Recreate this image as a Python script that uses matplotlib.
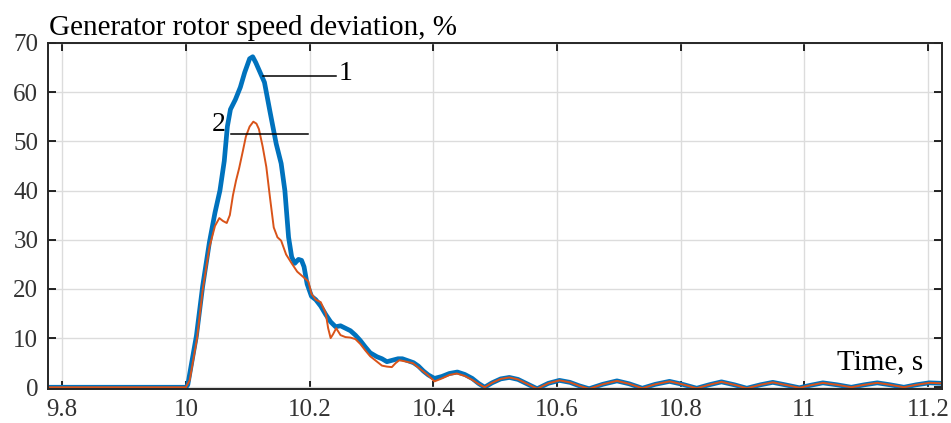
import numpy as np
import matplotlib.pyplot as plt

plt.rcParams['font.family'] = ['Liberation Serif', 'DejaVu Serif']

# curve 1 (blue)
t1 = [9.777, 10.0, 10.003, 10.017, 10.027, 10.038, 10.047, 10.055, 10.062, 10.067,
      10.072, 10.080, 10.088, 10.095, 10.103, 10.108, 10.113, 10.120, 10.127, 10.136,
      10.146, 10.154, 10.160, 10.166, 10.171, 10.176, 10.182, 10.187, 10.191, 10.196,
      10.203, 10.210, 10.218, 10.226, 10.234, 10.242, 10.250, 10.258, 10.266, 10.274,
      10.282, 10.290, 10.298, 10.309, 10.317, 10.325, 10.334, 10.343, 10.350, 10.359,
      10.368, 10.376, 10.384, 10.392, 10.402, 10.414, 10.426, 10.439, 10.451, 10.463,
      10.473, 10.483, 10.495, 10.509, 10.523, 10.537, 10.550, 10.568, 10.586, 10.604,
      10.621, 10.636, 10.652, 10.674, 10.697, 10.717, 10.738, 10.759, 10.782, 10.803,
      10.826, 10.846, 10.866, 10.887, 10.907, 10.929, 10.949, 10.969, 10.992, 11.010,
      11.030, 11.053, 11.076, 11.097, 11.118, 11.139, 11.161, 11.181, 11.202, 11.223]
v1 = [0.0, 0.0, 0.5, 10.5, 20.5, 29.5, 35.5, 40.0, 46.0, 53.0,
      56.5, 58.5, 61.0, 64.0, 66.8, 67.2, 66.0, 64.0, 62.0, 56.0,
      49.5, 45.5, 40.0, 30.5, 26.5, 25.2, 26.0, 25.8, 24.5, 21.0,
      18.5, 17.8, 16.5, 14.8, 13.3, 12.3, 12.5, 12.0, 11.5, 10.6,
      9.5, 8.2, 7.0, 6.2, 5.8, 5.2, 5.5, 5.8, 5.8, 5.4,
      5.0, 4.3, 3.3, 2.5, 1.8, 2.2, 2.8, 3.1, 2.6, 1.8,
      0.8, 0.0, 0.9, 1.7, 2.0, 1.6, 0.8, -0.3, 0.8, 1.4,
      1.0, 0.3, -0.3, 0.6, 1.3, 0.7, -0.2, 0.6, 1.2, 0.6,
      -0.2, 0.5, 1.1, 0.5, -0.2, 0.5, 1.0, 0.5, -0.1, 0.4,
      0.9, 0.5, 0.0, 0.5, 0.9, 0.5, 0.0, 0.5, 0.9, 0.8]

# curve 2 (orange)
t2 = [9.777, 10.0, 10.006, 10.018, 10.027, 10.038, 10.047, 10.054, 10.060, 10.066,
      10.071, 10.076, 10.081, 10.086, 10.092, 10.097, 10.103, 10.109, 10.114, 10.118,
      10.124, 10.130, 10.136, 10.142, 10.148, 10.154, 10.162, 10.171, 10.180, 10.190,
      10.198, 10.203, 10.210, 10.218, 10.226, 10.230, 10.234, 10.238, 10.243, 10.250,
      10.258, 10.266, 10.274, 10.282, 10.290, 10.298, 10.309, 10.317, 10.325, 10.333,
      10.339, 10.345, 10.353, 10.367, 10.378, 10.390, 10.402, 10.414, 10.426, 10.438,
      10.451, 10.463, 10.473, 10.483, 10.495, 10.509, 10.523, 10.537, 10.550, 10.568,
      10.586, 10.604, 10.621, 10.636, 10.652, 10.674, 10.697, 10.717, 10.738, 10.759,
      10.782, 10.803, 10.826, 10.846, 10.866, 10.887, 10.907, 10.929, 10.949, 10.969,
      10.992, 11.010, 11.030, 11.053, 11.076, 11.097, 11.118, 11.139, 11.161, 11.181,
      11.202, 11.223]
v2 = [0.0, 0.0, 1.4, 10.0, 19.7, 28.5, 32.8, 34.4, 33.8, 33.4,
      35.0, 39.0, 42.0, 44.5, 48.0, 51.0, 53.0, 54.0, 53.6, 52.5,
      49.0, 44.8, 38.5, 32.5, 30.5, 29.8, 27.0, 25.2, 23.5, 22.4,
      21.5, 19.0, 17.8, 17.3, 15.1, 12.0, 10.0, 10.8, 12.0, 10.6,
      10.2, 10.1, 9.8, 8.8, 7.5, 6.3, 5.2, 4.4, 4.2, 4.1,
      4.9, 5.5, 5.3, 4.9, 3.8, 2.6, 1.2, 1.8, 2.5, 2.8,
      2.3, 1.5, 0.7, 0.0, 0.9, 1.7, 2.0, 1.6, 0.8, -0.3,
      0.8, 1.4, 1.0, 0.3, -0.3, 0.6, 1.3, 0.7, -0.2, 0.6,
      1.2, 0.6, -0.2, 0.5, 1.1, 0.5, -0.2, 0.5, 1.0, 0.5,
      -0.1, 0.4, 0.9, 0.5, 0.0, 0.5, 0.9, 0.5, 0.0, 0.5,
      0.9, 0.8]

xticks = [9.8, 10.0, 10.2, 10.4, 10.6, 10.8, 11.0, 11.2]
xtick_labels = ['9.8', '10', '10.2', '10.4', '10.6', '10.8', '11', '11.2']
yticks = [0, 10, 20, 30, 40, 50, 60, 70]

fig = plt.figure(figsize=(9.51, 4.23), dpi=100)
ax = fig.add_axes([0.0505, 0.0804, 0.940, 0.818])

ax.plot(t1, v1, color='#0072BD', lw=3.4, solid_joinstyle='round')
ax.plot(t2, v2, color='#D95319', lw=1.4)

# leader lines for curve labels
ax.plot([10.124, 10.243], [63.3, 63.3], color='black', lw=1.1)
ax.text(10.247, 63.8, '1', fontsize=20, va='center', ha='left')
ax.plot([10.073, 10.198], [51.5, 51.5], color='black', lw=1.1)
ax.text(10.064, 53.4, '2', fontsize=20, va='center', ha='right')

ax.text(11.192, 3.6, 'Time, s', fontsize=21, ha='right', va='baseline')
fig.text(0.052, 0.918, 'Generator rotor speed deviation, %', fontsize=21,
         ha='left', va='baseline')

ax.set_xlim(9.777, 11.2226)
ax.set_ylim(-0.35, 70)
ax.set_xticks(xticks)
ax.set_xticklabels(xtick_labels)
ax.set_yticks(yticks)
ax.grid(True, color='#dcdcdc', lw=1.0)
ax.set_axisbelow(True)
ax.tick_params(direction='in', length=6, width=1.2, top=True, right=True,
               labelsize=18, colors='black', labelcolor='#333333', pad=7)
for s in ax.spines.values():
    s.set_linewidth(1.4)
    s.set_color('#262626')

fig.savefig('out.png', dpi=100)
